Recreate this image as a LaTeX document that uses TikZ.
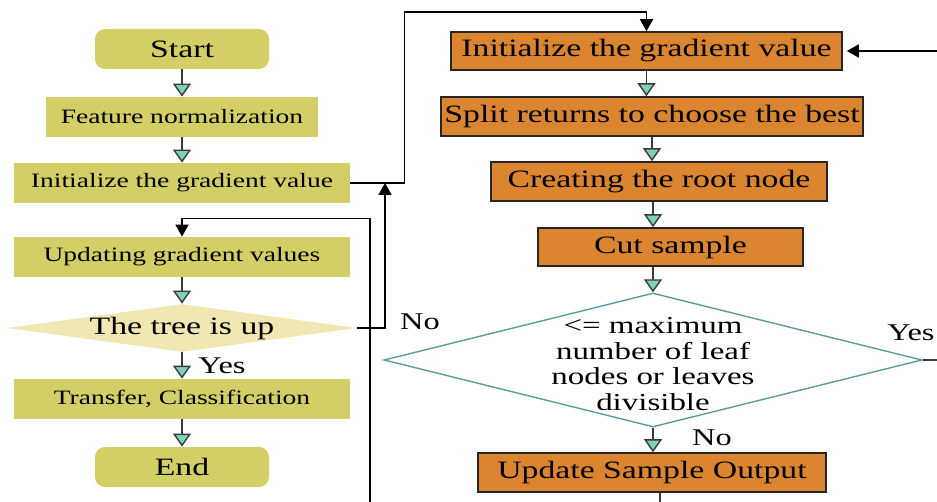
\documentclass[tikz,border=0pt]{standalone}
\usepackage{fontspec}
\setmainfont{Liberation Serif}[FakeStretch=1.35]
\usetikzlibrary{shapes.geometric,arrows.meta}

\definecolor{olivebox}{RGB}{211,207,102}
\definecolor{beigedec}{RGB}{241,231,179}
\definecolor{orangebox}{RGB}{219,133,48}
\definecolor{tealtip}{RGB}{127,209,188}
\definecolor{tealline}{RGB}{91,156,156}
\definecolor{darkline}{RGB}{58,58,58}

\tikzset{
  lbox/.style={fill=olivebox, minimum height=20pt, inner sep=0pt, font=\fontsize{10.2}{12}\selectfont},
  term/.style={lbox, rounded corners=5pt, minimum width=87pt, font=\fontsize{12.5}{15}\selectfont},
  obox/.style={fill=orangebox, draw=black!85, line width=0.8pt, minimum height=19pt, inner sep=0pt, font=\fontsize{12.5}{15}\selectfont},
  dec/.style={diamond, aspect=1, inner sep=0pt},
  flow/.style={draw=darkline, line width=0.7pt, -{Triangle[width=9pt,length=6.5pt,fill=tealtip]}},
  back/.style={draw=black, line width=0.9pt, -{Triangle[width=6.5pt,length=6pt]}},
  lbl/.style={font=\fontsize{12}{14}\selectfont}
}

\begin{document}
\begin{tikzpicture}[x=0.5pt, y=-0.5pt]
    \useasboundingbox (0,0) rectangle (937,502);

    % Left column
    \node[term] (start) at (182,49) {Start};
    \node[lbox, minimum width=136pt] (feat) at (182,117) {Feature normalization};
    \node[lbox, minimum width=168pt] (initL) at (182,183) {Initialize the gradient value};
    \node[lbox, minimum width=168pt] (upd) at (182,257) {Updating gradient values};
    \node[dec, fill=beigedec, minimum width=175pt, minimum height=24pt,
          label={[font=\fontsize{12.5}{15}\selectfont]center:The tree is up}] (tree) at (182,328) {};
    \node[lbox, minimum width=168pt] (trans) at (182,399) {Transfer, Classification};
    \node[term] (end) at (182,467) {End};

    \draw[flow] (start.south) -- (feat.north);
    \draw[flow] (feat.south) -- (initL.north);
    \draw[flow] (upd.south) -- (tree.north);
    \draw[flow] (tree.south) -- (trans.north);
    \draw[flow] (trans.south) -- (end.north);

    % Right column
    \node[obox, minimum width=195.5pt] (initR) at (646.5,51) {Initialize the gradient value};
    \node[obox, minimum width=211pt, minimum height=19.5pt] (split) at (652,116.5) {Split returns to choose the best};
    \node[obox, minimum width=168pt, minimum height=19.5pt] (root) at (659,181.5) {Creating the root node};
    \node[obox, minimum width=132.5pt] (cut) at (670.5,247) {Cut sample};
    \node[dec, draw=tealline, line width=0.7pt, minimum width=269pt, minimum height=67pt,
          label={[align=center, yshift=-2pt, font=\fontsize{12.2}{12.8}\selectfont]center:{<= maximum\\number of leaf\\nodes or leaves\\divisible}}] (chk) at (653,360) {};
    \node[obox, minimum width=174pt, minimum height=19.5pt] (out) at (652,472.5) {Update Sample Output};

    \draw[flow] (initR.south) -- (initR.south |- split.north);
    \draw[flow] (split.south) -- (split.south |- root.north);
    \draw[flow] (root.south -| chk.north) -- (cut.north -| chk.north);
    \draw[flow] (cut.south -| chk.north) -- (chk.north);
    \draw[flow] (chk.south) -- (chk.south |- out.north);

    % Loops and ends off the picture
    \coordinate (merge) at (385,183);
    \coordinate (lowIn) at (370,502);
    \coordinate (rightIn) at (937,51);
    \coordinate (rightOut) at (937,360);
    \coordinate (lowOut) at (660,502);

    \draw[back] (initL.east) -| ++(54,-171) -| (initR.north);
    \draw[back] (tree.east) -| (merge);
    \draw[back] (lowIn) |- ([yshift=9pt]upd.north) -- (upd.north);
    \draw[back, shorten >=2pt] (rightIn) -- (initR.east);
    \draw[darkline, line width=0.8pt] (chk.east) -- (rightOut);
    \draw[darkline, line width=0.8pt] (out.south -| lowOut) -- (lowOut);

    % Labels
    \node[lbl] (yesL) at (222,366) {Yes};
    \node[lbl] (noL) at (420,322) {No};
    \node[lbl] (noR) at (712,438) {No};
    \node[lbl] (yesR) at (911,333) {Yes};
\end{tikzpicture}
\end{document}
